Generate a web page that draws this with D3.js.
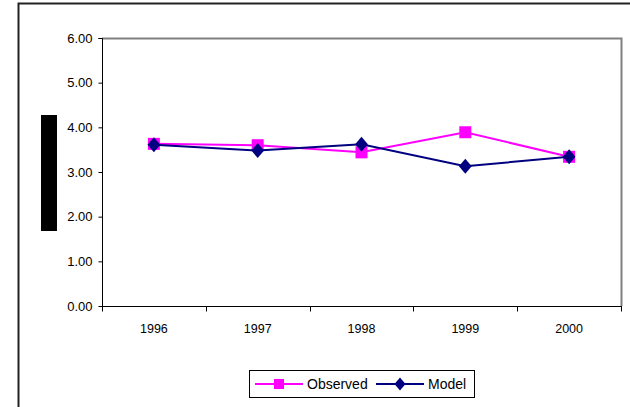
<!DOCTYPE html>
<html>
<head>
<meta charset="utf-8">
<script src="https://cdn.jsdelivr.net/npm/d3@7"></script>
<style>
  html, body { margin: 0; padding: 0; background: #fff; }
  svg { display: block; font-family: "Liberation Sans", Arial, sans-serif; }
</style>
</head>
<body>
<svg id="chart" width="630" height="407"></svg>
<script>
// Yearly values for the two series
const years = ["1996", "1997", "1998", "1999", "2000"];
const observed = [3.63, 3.60, 3.44, 3.89, 3.34];
const model = [3.61, 3.48, 3.62, 3.13, 3.34];
const yTicks = [0, 1, 2, 3, 4, 5, 6];
const seriesNames = ["Observed", "Model"];
const seriesColors = ["#ff00ff", "#000080"];

const svg = d3.select("#chart");
const plot = { left: 102, right: 621, top: 38, bottom: 306 };

// Outer chart frame (top and left edges visible)
svg.append("path")
  .attr("d", "M18.5,407 V3.5 H630")
  .attr("fill", "none")
  .attr("stroke", "#222")
  .attr("stroke-width", 2);

const x = d3.scaleBand().domain(years).range([plot.left, plot.right]);
const y = d3.scaleLinear().domain([0, 6]).range([plot.bottom, plot.top]);

// Plot area border (grey top/right)
svg.append("path")
  .attr("d", `M${plot.left},${plot.top + 0.5} H${plot.right + 0.5} V${plot.bottom}`)
  .attr("fill", "none")
  .attr("stroke", "#808080")
  .attr("stroke-width", 2);

// Y axis
const yAxis = svg.append("g")
  .attr("transform", `translate(${plot.left + 0.5},0)`)
  .call(d3.axisLeft(y).tickValues(yTicks).tickFormat(d3.format(".2f")).tickSize(4).tickPadding(6));
yAxis.select(".domain").attr("stroke", "#000").attr("d", `M-4,${plot.top + 0.5}H0V${plot.bottom + 0.5}`);
yAxis.selectAll(".tick line").attr("stroke", "#000");
yAxis.selectAll("text").attr("font-size", 13).attr("fill", "#000")
  .attr("font-family", "Liberation Sans, Arial, sans-serif");

// X axis with ticks at category boundaries
const xAxis = svg.append("g")
  .attr("transform", `translate(0,${plot.bottom + 0.5})`);
xAxis.append("line")
  .attr("x1", plot.left).attr("x2", plot.right + 1)
  .attr("stroke", "#000");
const bounds = years.map(d => x(d)).concat([x(years[years.length - 1]) + x.bandwidth()]);
xAxis.selectAll(".bt").data(bounds).enter().append("line")
  .attr("x1", d => Math.round(d) + 0.5).attr("x2", d => Math.round(d) + 0.5)
  .attr("y1", 0).attr("y2", 5)
  .attr("stroke", "#000");
xAxis.selectAll(".lab").data(years).enter().append("text")
  .attr("x", d => x(d) + x.bandwidth() / 2)
  .attr("y", 26)
  .attr("text-anchor", "middle")
  .attr("font-size", 12.5)
  .text(d => d);

// Axis title block
svg.append("rect")
  .attr("x", 41).attr("y", 115).attr("width", 16).attr("height", 116)
  .attr("fill", "#000");

const cx = d => x(d) + x.bandwidth() / 2;
const line = d3.line().x((v, i) => cx(years[i])).y(v => y(v));

const squareSym = d3.symbol().type(d3.symbolSquare).size(144);
const diamondPath = s => `M0,${-s}L${s * 0.85},0L0,${s}L${-s * 0.85},0Z`;

// Observed series
svg.append("path").datum(observed)
  .attr("d", line).attr("fill", "none")
  .attr("stroke", seriesColors[0]).attr("stroke-width", 2);
svg.selectAll(".obs").data(observed).enter().append("path")
  .attr("transform", (v, i) => `translate(${cx(years[i])},${y(v)})`)
  .attr("d", squareSym).attr("fill", seriesColors[0]);

// Model series
svg.append("path").datum(model)
  .attr("d", line).attr("fill", "none")
  .attr("stroke", seriesColors[1]).attr("stroke-width", 2);
svg.selectAll(".mod").data(model).enter().append("path")
  .attr("transform", (v, i) => `translate(${cx(years[i])},${y(v)})`)
  .attr("d", diamondPath(7.5)).attr("fill", seriesColors[1]);

// Legend
const lg = svg.append("g");
lg.append("rect")
  .attr("x", 249.5).attr("y", 370.5).attr("width", 225).attr("height", 27)
  .attr("fill", "#fff").attr("stroke", "#000");
const items = [
  { x0: 255, name: seriesNames[0], color: seriesColors[0], sym: "square" },
  { x0: 376, name: seriesNames[1], color: seriesColors[1], sym: "diamond" }
];
items.forEach(it => {
  const ly = 384;
  lg.append("line").attr("x1", it.x0).attr("x2", it.x0 + 48)
    .attr("y1", ly).attr("y2", ly)
    .attr("stroke", it.color).attr("stroke-width", 2);
  lg.append("path")
    .attr("transform", `translate(${it.x0 + 24},${ly})`)
    .attr("d", it.sym === "square" ? d3.symbol().type(d3.symbolSquare).size(100)() : diamondPath(6.5))
    .attr("fill", it.color);
  lg.append("text").attr("x", it.x0 + 52).attr("y", ly + 5)
    .attr("font-size", 14).attr("fill", "#000").text(it.name);
});
</script>
</body>
</html>
